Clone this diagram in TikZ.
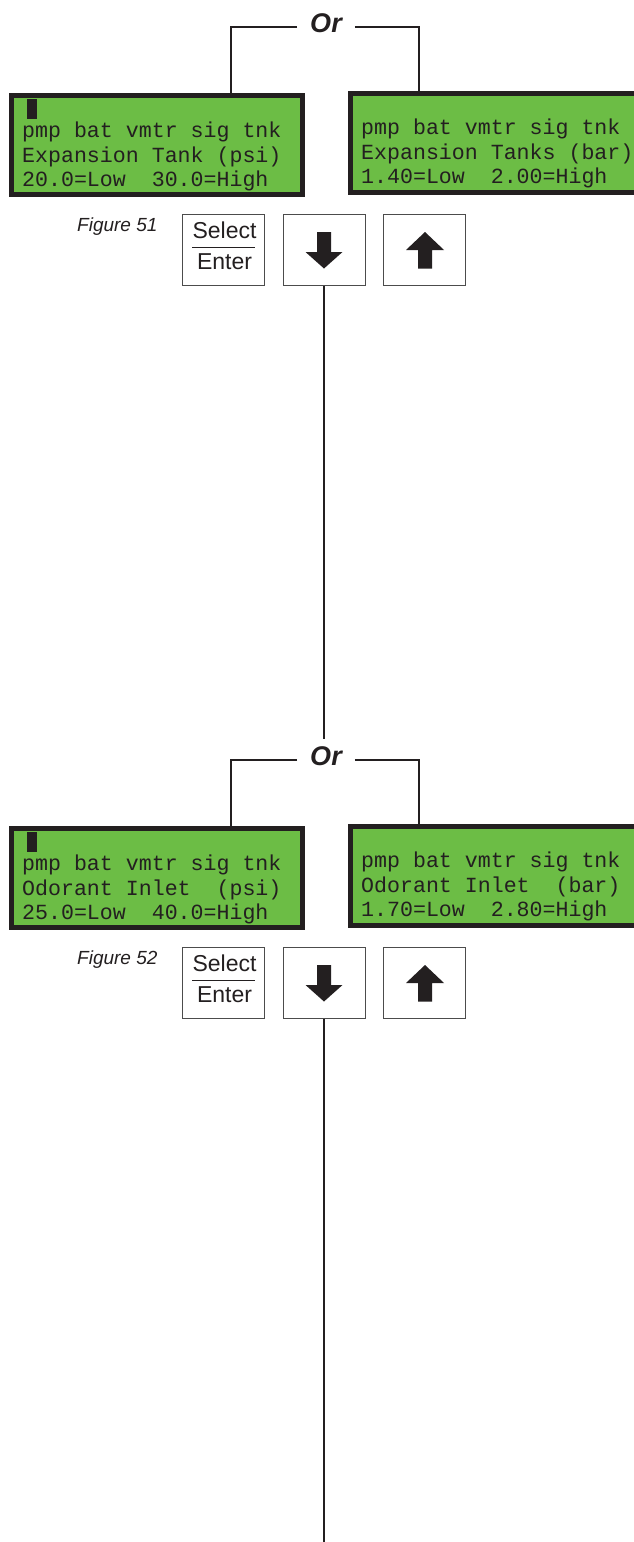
\documentclass[tikz,border=0pt]{standalone}
\usepackage{fontspec}
\setmainfont{Liberation Sans}
\newfontfamily\lcdfont{Liberation Mono}
\usetikzlibrary{calc}
\definecolor{ink}{HTML}{231F20}
\definecolor{lcdgreen}{RGB}{108,189,69}
\tikzset{
  lcdbox/.style={draw=ink, line width=5pt, fill=lcdgreen, minimum width=291pt, minimum height=99pt, inner sep=0pt, outer sep=2.5pt},
  lcdtext/.style={anchor=base west, inner sep=0pt, text=ink, font=\lcdfont\fontsize{21.6}{24}\selectfont},
  cursorblock/.style={fill=ink, minimum width=10pt, minimum height=20pt, inner sep=0pt},
  orlabel/.style={font=\fontsize{27}{27}\selectfont\bfseries\itshape, text=ink, inner xsep=13pt, inner ysep=7pt},
  conn/.style={draw=ink, line width=2.8pt},
  keybox/.style={draw=black!70, line width=1pt, minimum width=82pt, minimum height=71pt, inner sep=0pt, fill=white},
  keytext/.style={font=\fontsize{23}{23}\selectfont, text=ink, inner sep=0pt, anchor=base},
  figlabel/.style={font=\fontsize{19}{19}\selectfont\itshape, text=ink, anchor=base west, inner sep=0pt},
  arrowfill/.style={fill=ink, draw=none},
  sepline/.style={draw=ink, line width=1pt},
}
\begin{document}
\begin{tikzpicture}[x=1pt, y=-1pt]
\fill[white] (0,0) rectangle (634,1542);
\useasboundingbox (0,0) rectangle (634,1542);
\clip (0,0) rectangle (634,1542);

% ---------------- Stage 1 ----------------
\node[orlabel] (or1) at (326,23) {Or};
\coordinate (lj1) at (231,0);
\coordinate (rj1) at (419,0);
\node[lcdbox] (lbox1) at (157,145) {};
\node[lcdbox] (rbox1) at (496,143) {};
\draw[conn] ([yshift=-4pt]or1.west) -| (lbox1.north -| lj1);
\draw[conn] ([yshift=-4pt]or1.east) -| (rbox1.north -| rj1);
\node[cursorblock] (cur1) at (32,109) {};
\node[lcdtext] (l1a) at (22,137) {pmp bat vmtr sig tnk};
\node[lcdtext] (l1b) at (22,162) {Expansion Tank (psi)};
\node[lcdtext] (l1c) at (22,186) {20.0=Low~~30.0=High};
\node[lcdtext] (r1a) at (361,134) {pmp bat vmtr sig tnk};
\node[lcdtext] (r1b) at (361,159) {Expansion Tanks (bar)};
\node[lcdtext] (r1c) at (361,183) {1.40=Low~~2.00=High};
\node[figlabel] (fig1) at (77,231.5) {Figure 51};
\node[keybox] (sel1) at (223,250) {};
\node[keybox] (down1) at (324,250) {};
\node[keybox] (up1) at (424,250) {};
\node[keytext] (sel1t) at (224.5,238) {Select};
\node[keytext] (ent1t) at (224.5,269) {Enter};
\draw[sepline] (192,247) -- (255,247);
\fill[arrowfill] (317,232) -- (331,232) -- (331,252) -- (342.5,252) -- (324,268.5) -- (305.5,252) -- (317,252) -- cycle;
\fill[arrowfill] (425,232) -- (444,250) -- (432,250) -- (432,268.5) -- (418,268.5) -- (418,250) -- (406,250) -- cycle;

% ---------------- Stage 2 ----------------
\begin{scope}[yshift=-733pt]
\node[orlabel] (or2) at (326,23) {Or};
\coordinate (lj2) at (231,0);
\coordinate (rj2) at (419,0);
\node[lcdbox] (lbox2) at (157,145) {};
\node[lcdbox] (rbox2) at (496,143) {};
\draw[conn] ([yshift=-4pt]or2.west) -| (lbox2.north -| lj2);
\draw[conn] ([yshift=-4pt]or2.east) -| (rbox2.north -| rj2);
\node[cursorblock] (cur2) at (32,109) {};
\node[lcdtext] (l2a) at (22,137) {pmp bat vmtr sig tnk};
\node[lcdtext] (l2b) at (22,162) {Odorant Inlet~~(psi)};
\node[lcdtext] (l2c) at (22,186) {25.0=Low~~40.0=High};
\node[lcdtext] (r2a) at (361,134) {pmp bat vmtr sig tnk};
\node[lcdtext] (r2b) at (361,159) {Odorant Inlet~~(bar)};
\node[lcdtext] (r2c) at (361,183) {1.70=Low~~2.80=High};
\node[figlabel] (fig2) at (77,231.5) {Figure 52};
\node[keybox] (sel2) at (223,250) {};
\node[keybox] (down2) at (324,250) {};
\node[keybox] (up2) at (424,250) {};
\node[keytext] (sel2t) at (224.5,238) {Select};
\node[keytext] (ent2t) at (224.5,269) {Enter};
\draw[sepline] (192,247) -- (255,247);
\fill[arrowfill] (317,232) -- (331,232) -- (331,252) -- (342.5,252) -- (324,268.5) -- (305.5,252) -- (317,252) -- cycle;
\fill[arrowfill] (425,232) -- (444,250) -- (432,250) -- (432,268.5) -- (418,268.5) -- (418,250) -- (406,250) -- cycle;
\end{scope}

% vertical connectors
\coordinate (bottomend) at (324,1545);
\draw[conn] (down1.south) -- (down1.south |- or2.north);
\draw[conn] (down2.south) -- (down2.south |- bottomend);
\end{tikzpicture}
\end{document}
